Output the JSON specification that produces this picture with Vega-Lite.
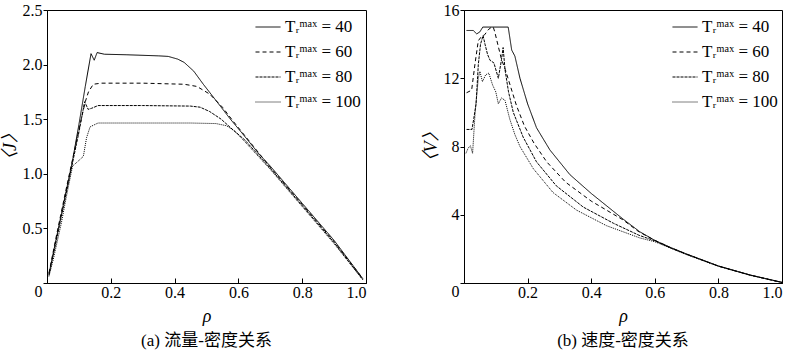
{
  "$schema": "https://vega.github.io/schema/vega-lite/v6.json",
  "padding": {"left": 0, "top": 1, "right": 0, "bottom": 0},
  "spacing": 54,
  "config": {
    "view": {"stroke": "black", "strokeWidth": 1},
    "font": "Liberation Serif",
    "axis": {"labelFont": "Liberation Serif", "labelFontSize": 16, "labelColor": "black", "domainColor": "black", "tickColor": "black", "grid": false, "titleFont": "Liberation Serif, Noto Sans CJK SC", "titleFontWeight": "normal", "titleColor": "black", "titleFontSize": 18, "titleFontStyle": "italic"},
    "axisX": {"tickSize": -5, "labelPadding": 6, "titlePadding": 7},
    "axisY": {"tickSize": 4, "labelPadding": 1, "titlePadding": 3},
    "legend": {"orient": "none", "legendX": 208, "legendY": 4, "title": null, "labelFont": "Liberation Serif, DejaVu Serif", "labelFontSize": 17, "labelColor": "black", "symbolType": "stroke", "symbolSize": 625, "symbolStrokeWidth": 1, "symbolStrokeColor": "black", "rowPadding": 4, "labelOffset": 4, "padding": 0},
    "title": {"font": "Liberation Serif, Noto Sans CJK SC", "fontSize": 17, "fontWeight": "normal", "color": "black", "orient": "bottom", "anchor": "middle", "offset": 8}
  },
  "datasets": {
    "flow": [
      {"T":40,"rho":0.006,"J":0.08},{"T":40,"rho":0.03,"J":0.42},{"T":40,"rho":0.06,"J":0.84},{"T":40,"rho":0.08,"J":1.12},{"T":40,"rho":0.1,"J":1.45},{"T":40,"rho":0.12,"J":1.8},{"T":40,"rho":0.138,"J":2.1},{"T":40,"rho":0.148,"J":2.04},{"T":40,"rho":0.157,"J":2.11},{"T":40,"rho":0.18,"J":2.095},{"T":40,"rho":0.25,"J":2.09},{"T":40,"rho":0.35,"J":2.08},{"T":40,"rho":0.38,"J":2.075},{"T":40,"rho":0.41,"J":2.05},{"T":40,"rho":0.43,"J":2.02},{"T":40,"rho":0.46,"J":1.94},{"T":40,"rho":0.49,"J":1.82},{"T":40,"rho":0.53,"J":1.67},{"T":40,"rho":0.575,"J":1.5},{"T":40,"rho":0.615,"J":1.36},{"T":40,"rho":0.665,"J":1.18},{"T":40,"rho":0.7,"J":1.07},{"T":40,"rho":0.8,"J":0.73},{"T":40,"rho":0.9,"J":0.39},{"T":40,"rho":0.99,"J":0.04},
      {"T":60,"rho":0.006,"J":0.09},{"T":60,"rho":0.03,"J":0.44},{"T":60,"rho":0.06,"J":0.86},{"T":60,"rho":0.08,"J":1.13},{"T":60,"rho":0.1,"J":1.4},{"T":60,"rho":0.108,"J":1.51},{"T":60,"rho":0.12,"J":1.66},{"T":60,"rho":0.13,"J":1.75},{"T":60,"rho":0.145,"J":1.82},{"T":60,"rho":0.17,"J":1.83},{"T":60,"rho":0.3,"J":1.83},{"T":60,"rho":0.43,"J":1.82},{"T":60,"rho":0.47,"J":1.8},{"T":60,"rho":0.51,"J":1.73},{"T":60,"rho":0.55,"J":1.61},{"T":60,"rho":0.584,"J":1.48},{"T":60,"rho":0.62,"J":1.35},{"T":60,"rho":0.7,"J":1.06},{"T":60,"rho":0.8,"J":0.72},{"T":60,"rho":0.9,"J":0.38},{"T":60,"rho":0.99,"J":0.04},
      {"T":80,"rho":0.006,"J":0.07},{"T":80,"rho":0.03,"J":0.4},{"T":80,"rho":0.06,"J":0.82},{"T":80,"rho":0.08,"J":1.1},{"T":80,"rho":0.1,"J":1.38},{"T":80,"rho":0.118,"J":1.66},{"T":80,"rho":0.129,"J":1.59},{"T":80,"rho":0.14,"J":1.6},{"T":80,"rho":0.16,"J":1.625},{"T":80,"rho":0.3,"J":1.625},{"T":80,"rho":0.45,"J":1.62},{"T":80,"rho":0.48,"J":1.61},{"T":80,"rho":0.51,"J":1.57},{"T":80,"rho":0.546,"J":1.5},{"T":80,"rho":0.584,"J":1.4},{"T":80,"rho":0.62,"J":1.31},{"T":80,"rho":0.7,"J":1.05},{"T":80,"rho":0.8,"J":0.71},{"T":80,"rho":0.9,"J":0.37},{"T":80,"rho":0.99,"J":0.03},
      {"T":100,"rho":0.006,"J":0.06},{"T":100,"rho":0.02,"J":0.22},{"T":100,"rho":0.045,"J":0.55},{"T":100,"rho":0.06,"J":0.78},{"T":100,"rho":0.08,"J":1.07},{"T":100,"rho":0.103,"J":1.13},{"T":100,"rho":0.114,"J":1.16},{"T":100,"rho":0.124,"J":1.33},{"T":100,"rho":0.135,"J":1.43},{"T":100,"rho":0.16,"J":1.465},{"T":100,"rho":0.3,"J":1.465},{"T":100,"rho":0.45,"J":1.465},{"T":100,"rho":0.53,"J":1.46},{"T":100,"rho":0.563,"J":1.44},{"T":100,"rho":0.589,"J":1.39},{"T":100,"rho":0.615,"J":1.31},{"T":100,"rho":0.7,"J":1.04},{"T":100,"rho":0.8,"J":0.7},{"T":100,"rho":0.9,"J":0.36},{"T":100,"rho":0.99,"J":0.03}
    ],
    "speed": [
      {"T":40,"rho":0.008,"V":14.8},{"T":40,"rho":0.029,"V":14.8},{"T":40,"rho":0.04,"V":14.6},{"T":40,"rho":0.05,"V":14.72},{"T":40,"rho":0.059,"V":15.0},{"T":40,"rho":0.139,"V":15.0},{"T":40,"rho":0.15,"V":13.65},{"T":40,"rho":0.16,"V":13.3},{"T":40,"rho":0.176,"V":12.0},{"T":40,"rho":0.2,"V":10.5},{"T":40,"rho":0.228,"V":9.1},{"T":40,"rho":0.27,"V":7.8},{"T":40,"rho":0.333,"V":6.35},{"T":40,"rho":0.4,"V":5.25},{"T":40,"rho":0.45,"V":4.5},{"T":40,"rho":0.5,"V":3.75},{"T":40,"rho":0.553,"V":3.0},{"T":40,"rho":0.6,"V":2.5},{"T":40,"rho":0.65,"V":2.08},{"T":40,"rho":0.7,"V":1.7},{"T":40,"rho":0.8,"V":1.0},{"T":40,"rho":0.9,"V":0.47},{"T":40,"rho":1.0,"V":0.04},
      {"T":60,"rho":0.008,"V":11.15},{"T":60,"rho":0.024,"V":11.3},{"T":60,"rho":0.035,"V":12.9},{"T":60,"rho":0.045,"V":14.2},{"T":60,"rho":0.055,"V":14.45},{"T":60,"rho":0.065,"V":14.55},{"T":60,"rho":0.076,"V":14.84},{"T":60,"rho":0.087,"V":15.0},{"T":60,"rho":0.092,"V":15.0},{"T":60,"rho":0.097,"V":14.7},{"T":60,"rho":0.108,"V":13.85},{"T":60,"rho":0.118,"V":13.1},{"T":60,"rho":0.13,"V":12.5},{"T":60,"rho":0.145,"V":11.6},{"T":60,"rho":0.165,"V":10.4},{"T":60,"rho":0.19,"V":9.2},{"T":60,"rho":0.22,"V":8.2},{"T":60,"rho":0.26,"V":7.1},{"T":60,"rho":0.32,"V":5.9},{"T":60,"rho":0.4,"V":4.8},{"T":60,"rho":0.5,"V":3.7},{"T":60,"rho":0.55,"V":3.0},{"T":60,"rho":0.6,"V":2.5},{"T":60,"rho":0.65,"V":2.07},{"T":60,"rho":0.7,"V":1.69},{"T":60,"rho":0.8,"V":0.99},{"T":60,"rho":0.9,"V":0.46},{"T":60,"rho":1.0,"V":0.03},
      {"T":80,"rho":0.008,"V":9.0},{"T":80,"rho":0.025,"V":9.0},{"T":80,"rho":0.031,"V":9.66},{"T":80,"rho":0.038,"V":10.5},{"T":80,"rho":0.045,"V":12.8},{"T":80,"rho":0.052,"V":14.0},{"T":80,"rho":0.06,"V":14.5},{"T":80,"rho":0.066,"V":14.0},{"T":80,"rho":0.074,"V":13.4},{"T":80,"rho":0.082,"V":13.05},{"T":80,"rho":0.094,"V":12.9},{"T":80,"rho":0.108,"V":12.0},{"T":80,"rho":0.118,"V":13.1},{"T":80,"rho":0.123,"V":13.8},{"T":80,"rho":0.129,"V":12.5},{"T":80,"rho":0.14,"V":11.2},{"T":80,"rho":0.155,"V":10.0},{"T":80,"rho":0.186,"V":8.55},{"T":80,"rho":0.228,"V":7.1},{"T":80,"rho":0.29,"V":5.7},{"T":80,"rho":0.375,"V":4.45},{"T":80,"rho":0.47,"V":3.5},{"T":80,"rho":0.55,"V":2.8},{"T":80,"rho":0.6,"V":2.47},{"T":80,"rho":0.65,"V":2.05},{"T":80,"rho":0.7,"V":1.68},{"T":80,"rho":0.8,"V":0.99},{"T":80,"rho":0.9,"V":0.46},{"T":80,"rho":1.0,"V":0.03},
      {"T":100,"rho":0.006,"V":7.6},{"T":100,"rho":0.013,"V":7.9},{"T":100,"rho":0.02,"V":8.05},{"T":100,"rho":0.027,"V":7.6},{"T":100,"rho":0.035,"V":10.0},{"T":100,"rho":0.045,"V":12.0},{"T":100,"rho":0.05,"V":12.4},{"T":100,"rho":0.058,"V":11.8},{"T":100,"rho":0.068,"V":12.2},{"T":100,"rho":0.078,"V":12.3},{"T":100,"rho":0.09,"V":11.6},{"T":100,"rho":0.1,"V":11.2},{"T":100,"rho":0.108,"V":10.5},{"T":100,"rho":0.118,"V":10.85},{"T":100,"rho":0.129,"V":10.7},{"T":100,"rho":0.144,"V":9.6},{"T":100,"rho":0.16,"V":8.7},{"T":100,"rho":0.176,"V":8.0},{"T":100,"rho":0.218,"V":6.7},{"T":100,"rho":0.28,"V":5.3},{"T":100,"rho":0.354,"V":4.27},{"T":100,"rho":0.448,"V":3.36},{"T":100,"rho":0.553,"V":2.64},{"T":100,"rho":0.6,"V":2.42},{"T":100,"rho":0.65,"V":2.04},{"T":100,"rho":0.7,"V":1.66},{"T":100,"rho":0.8,"V":0.98},{"T":100,"rho":0.9,"V":0.45},{"T":100,"rho":1.0,"V":0.03}
    ]
  },
  "hconcat": [
    {
      "width": 319, "height": 273,
      "title": {"text": "(a) 流量-密度关系"},
      "data": {"name": "flow"},
      "mark": {"type": "line", "strokeWidth": 1, "color": "black"},
      "encoding": {
        "x": {"field": "rho", "type": "quantitative", "scale": {"domain": [0, 1], "nice": false}, "axis": {"values": [0.2, 0.4, 0.6, 0.8, 1.0], "format": ".1f", "title": "ρ"}},
        "y": {"field": "J", "type": "quantitative", "scale": {"domain": [0, 2.5], "nice": false}, "axis": {"values": [0, 0.5, 1, 1.5, 2, 2.5], "labelExpr": "datum.value == 0 ? '0' : format(datum.value, '.1f')", "labelBaseline": {"condition": {"test": "datum.value == 0", "value": "top"}, "value": "middle"}, "title": "〈J〉"}},
        "strokeDash": {"field": "T", "type": "ordinal", "scale": {"domain": [40, 60, 80, 100], "range": [[1, 0], [4, 3], [3, 1], [1, 1]]}, "legend": {"orient": "none", "legendX": 208, "legendY": 4, "labelExpr": "'Tᵣᵐᵃˣ = ' + datum.label"}}
      }
    },
    {
      "width": 318, "height": 273,
      "title": {"text": "(b) 速度-密度关系"},
      "data": {"name": "speed"},
      "mark": {"type": "line", "strokeWidth": 1, "color": "black"},
      "encoding": {
        "x": {"field": "rho", "type": "quantitative", "scale": {"domain": [0, 1], "nice": false}, "axis": {"values": [0.2, 0.4, 0.6, 0.8, 1.0], "format": ".1f", "title": "ρ"}},
        "y": {"field": "V", "type": "quantitative", "scale": {"domain": [0, 16], "nice": false}, "axis": {"values": [0, 4, 8, 12, 16], "labelBaseline": {"condition": {"test": "datum.value == 0", "value": "top"}, "value": "middle"}, "title": "〈V〉"}},
        "strokeDash": {"field": "T", "type": "ordinal", "scale": {"domain": [40, 60, 80, 100], "range": [[1, 0], [4, 3], [3, 1], [1, 1]]}, "legend": {"orient": "none", "legendX": 208, "legendY": 4, "labelExpr": "'Tᵣᵐᵃˣ = ' + datum.label"}}
      }
    }
  ],
  "resolve": {"legend": {"strokeDash": "independent"}, "scale": {"strokeDash": "independent"}}
}
